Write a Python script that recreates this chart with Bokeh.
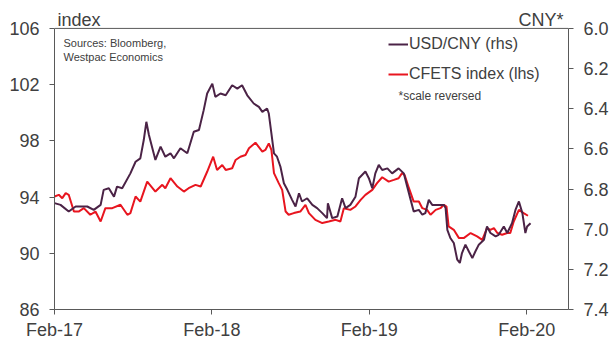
import pandas as pd
from bokeh.plotting import figure
from bokeh.models import (Range1d, LinearAxis, FixedTicker, DatetimeTickFormatter,
                          NumeralTickFormatter, Label, Legend, LegendItem, Span)
from bokeh.embed import file_html
from bokeh.resources import INLINE

# ---------------- data ----------------
usd_dates = [
    "2017-02-01", "2017-02-15", "2017-03-06", "2017-03-22", "2017-04-18", "2017-05-03",
    "2017-05-19", "2017-05-26", "2017-06-07", "2017-06-19", "2017-06-26", "2017-07-08",
    "2017-07-27", "2017-08-08", "2017-08-19", "2017-08-27", "2017-09-02", "2017-09-08",
    "2017-09-23", "2017-10-05", "2017-10-16", "2017-10-28", "2017-11-05", "2017-11-20",
    "2017-12-06", "2017-12-21", "2018-01-02", "2018-01-13", "2018-01-21", "2018-02-02",
    "2018-02-09", "2018-02-21", "2018-03-05", "2018-03-20", "2018-04-01", "2018-04-12",
    "2018-04-24", "2018-05-09", "2018-05-21", "2018-05-29", "2018-06-09", "2018-06-13",
    "2018-06-19", "2018-06-25", "2018-07-02", "2018-07-10", "2018-07-18", "2018-07-26",
    "2018-08-06", "2018-08-14", "2018-08-22", "2018-08-29", "2018-09-10", "2018-09-22",
    "2018-10-03", "2018-10-15", "2018-10-26", "2018-10-28", "2018-11-07", "2018-11-19",
    "2018-11-30", "2018-12-08", "2018-12-19", "2018-12-31", "2019-01-08", "2019-01-23",
    "2019-01-31", "2019-02-08", "2019-02-15", "2019-02-23", "2019-03-03", "2019-03-15",
    "2019-03-26", "2019-04-10", "2019-04-22", "2019-04-30", "2019-05-08", "2019-05-15",
    "2019-05-27", "2019-06-04", "2019-06-11", "2019-06-19", "2019-06-27", "2019-07-08",
    "2019-07-24", "2019-07-28", "2019-08-01", "2019-08-08", "2019-08-16", "2019-08-24",
    "2019-08-30", "2019-09-04", "2019-09-12", "2019-09-20", "2019-09-28", "2019-10-05",
    "2019-10-13", "2019-10-25", "2019-11-01", "2019-11-09", "2019-11-21", "2019-11-28",
    "2019-12-10", "2019-12-18", "2019-12-29", "2020-01-06", "2020-01-14", "2020-01-22",
    "2020-01-29", "2020-02-02", "2020-02-10",
]
usd_cny = [
    6.870, 6.879, 6.912, 6.887, 6.887, 6.904,
    6.879, 6.804, 6.796, 6.838, 6.788, 6.796,
    6.722, 6.664, 6.647, 6.556, 6.465, 6.531,
    6.655, 6.589, 6.639, 6.622, 6.647, 6.597,
    6.622, 6.515, 6.506, 6.407, 6.324, 6.275,
    6.341, 6.324, 6.333, 6.283, 6.300, 6.283,
    6.333, 6.374, 6.391, 6.416, 6.399, 6.424,
    6.523, 6.622, 6.639, 6.689, 6.771, 6.804,
    6.854, 6.887, 6.821, 6.862, 6.846, 6.879,
    6.895, 6.920, 6.945, 6.871, 6.945, 6.937,
    6.846, 6.895, 6.879, 6.838, 6.746, 6.713,
    6.746, 6.796, 6.722, 6.680, 6.705, 6.697,
    6.722, 6.697, 6.722, 6.788, 6.854, 6.912,
    6.904, 6.928, 6.920, 6.854, 6.879, 6.879,
    6.879, 6.895, 7.003, 7.044, 7.069, 7.152,
    7.168, 7.119, 7.077, 7.111, 7.144, 7.111,
    7.077, 7.053, 6.987, 7.019, 7.036, 7.028,
    6.987, 7.019, 6.970, 6.904, 6.862, 6.920,
    7.019, 6.987, 6.970,
]

cfets_dates = [
    "2017-02-01", "2017-02-11", "2017-02-19", "2017-02-27", "2017-03-06", "2017-03-18",
    "2017-03-29", "2017-04-10", "2017-04-25", "2017-05-07", "2017-05-19", "2017-05-30",
    "2017-06-15", "2017-07-04", "2017-07-20", "2017-07-27", "2017-08-08", "2017-08-19",
    "2017-09-04", "2017-09-23", "2017-10-09", "2017-10-16", "2017-10-28", "2017-11-13",
    "2017-11-28", "2017-12-09", "2017-12-25", "2018-01-06", "2018-01-21", "2018-02-04",
    "2018-02-13", "2018-02-25", "2018-03-05", "2018-03-20", "2018-03-28", "2018-04-08",
    "2018-04-20", "2018-04-28", "2018-05-13", "2018-05-29", "2018-06-05", "2018-06-13",
    "2018-06-19", "2018-06-25", "2018-07-06", "2018-07-14", "2018-07-22", "2018-07-29",
    "2018-08-10", "2018-08-25", "2018-09-06", "2018-09-14", "2018-09-29", "2018-10-15",
    "2018-10-30", "2018-11-15", "2018-11-26", "2018-12-04", "2018-12-19", "2018-12-31",
    "2019-01-12", "2019-01-23", "2019-02-08", "2019-02-19", "2019-03-03", "2019-03-18",
    "2019-03-30", "2019-04-10", "2019-04-18", "2019-04-24", "2019-05-04", "2019-05-15",
    "2019-05-27", "2019-06-04", "2019-06-15", "2019-06-23", "2019-07-05", "2019-07-16",
    "2019-07-24", "2019-07-30", "2019-08-04", "2019-08-16", "2019-08-28", "2019-09-08",
    "2019-09-24", "2019-10-09", "2019-10-21", "2019-11-01", "2019-11-09", "2019-11-17",
    "2019-11-25", "2019-12-06", "2019-12-18", "2019-12-25", "2020-01-02", "2020-01-14",
    "2020-01-25", "2020-02-04",
]
cfets_index = [
    94.04, 94.16, 93.92, 94.28, 94.16, 92.97,
    92.97, 93.21, 92.74, 92.97, 92.26, 93.21,
    93.21, 93.45, 92.74, 92.86, 94.04, 93.68,
    95.10, 94.39, 94.87, 94.63, 95.34, 94.75,
    94.39, 94.63, 94.87, 94.75, 95.80, 96.87,
    95.93, 96.28, 95.93, 96.05, 96.64, 96.87,
    96.99, 97.47, 97.87, 97.23, 97.35, 97.82,
    97.35, 95.70, 94.99, 94.51, 92.97, 92.74,
    92.86, 92.97, 93.45, 92.86, 92.38, 92.15,
    92.26, 92.38, 92.26, 93.21, 93.09, 93.33,
    93.80, 94.16, 94.51, 94.99, 95.41, 95.10,
    95.22, 95.34, 95.70, 95.57, 94.63, 93.68,
    93.68, 93.21, 93.09, 92.74, 93.09, 93.21,
    93.45, 93.33, 91.91, 91.67, 91.08, 91.08,
    91.44, 91.20, 90.96, 91.79, 91.67, 91.79,
    91.44, 91.32, 91.44, 91.44, 92.26, 93.09,
    92.86, 92.67,
]

x_ticks = ["2017-02-01", "2018-02-01", "2019-02-01", "2020-02-01"]
left_ticks = [86, 90, 94, 98, 102, 106]
right_ticks = [6.0, 6.2, 6.4, 6.6, 6.8, 7.0, 7.2, 7.4]

# ---------------- styles / layout ----------------
FONT = "Liberation Sans"
TXT = "#404040"
AX = "#595959"
PURPLE = "#4b2346"
RED = "#e8151f"

FRAME_H = 310          # frame runs from canvas top to the x axis
AXIS_TOP_PX = 28       # where the value axes end (106 / 6.0)
L_LO, L_HI = left_ticks[0], left_ticks[-1]
R_LO, R_HI = right_ticks[-1], right_ticks[0]   # reversed scale
l_top = L_HI + (L_HI - L_LO) * AXIS_TOP_PX / (FRAME_H - AXIS_TOP_PX)
r_top = R_HI - (R_LO - R_HI) * AXIS_TOP_PX / (FRAME_H - AXIS_TOP_PX)

usd_x = pd.to_datetime(usd_dates)
cf_x = pd.to_datetime(cfets_dates)

p = figure(width=615, height=342, x_axis_type="datetime",
           x_range=Range1d(pd.Timestamp("2017-02-01"), pd.Timestamp("2020-05-08")),
           y_range=Range1d(L_LO, l_top),
           output_backend="svg", toolbar_location=None,
           min_border_left=54, min_border_right=47, min_border_top=0, min_border_bottom=32)
p.extra_y_ranges = {"cny": Range1d(start=R_LO, end=r_top)}

p.grid.visible = False
p.outline_line_color = None
p.background_fill_color = "white"
p.border_fill_color = "white"

# top border line at the top of the value axes
p.add_layout(Span(location=L_HI, dimension="width", line_color=AX, line_width=1))

# lines
r_cf = p.line(cf_x, cfets_index, line_color=RED, line_width=2)
r_usd = p.line(usd_x, usd_cny, line_color=PURPLE, line_width=2, y_range_name="cny")

# axes
def style_axis(ax):
    ax.axis_line_color = AX
    ax.major_tick_line_color = AX
    ax.minor_tick_line_color = None
    ax.major_tick_in = 0
    ax.major_tick_out = 5
    ax.major_label_text_font = FONT
    ax.major_label_text_font_size = "18px"
    ax.major_label_text_color = TXT

xa = p.xaxis[0]
style_axis(xa)
xa.ticker = FixedTicker(ticks=[pd.Timestamp(t).value / 1e6 for t in x_ticks])
xa.formatter = DatetimeTickFormatter(years="%b-%y", months="%b-%y", days="%b-%y")
xa.major_label_standoff = 5

ya = p.yaxis[0]
style_axis(ya)
ya.ticker = FixedTicker(ticks=left_ticks)
ya.bounds = (L_LO, L_HI)
ya.major_label_standoff = 10

ra = LinearAxis(y_range_name="cny")
style_axis(ra)
ra.ticker = FixedTicker(ticks=right_ticks)
ra.formatter = NumeralTickFormatter(format="0.0")
ra.bounds = (R_HI, R_LO)
ra.major_label_standoff = 10
p.add_layout(ra, "right")

# legend
legend = Legend(items=[LegendItem(label="USD/CNY (rhs)", renderers=[r_usd]),
                       LegendItem(label="CFETS index (lhs)", renderers=[r_cf])],
                location=(334, 225), orientation="vertical")
legend.label_text_font = FONT
legend.label_text_font_size = "16px"
legend.label_text_color = TXT
legend.glyph_width = 20
legend.glyph_height = 20
legend.label_standoff = 1
legend.spacing = 10
legend.padding = 0
legend.margin = 0
legend.border_line_color = None
legend.background_fill_alpha = 0
p.add_layout(legend, "center")

# texts
def lab(text, x, y, size, align="left"):
    p.add_layout(Label(x=x, y=y, x_units="screen", y_units="screen", text=text,
                       text_font=FONT, text_font_size=size, text_color=TXT,
                       text_align=align, text_baseline="middle"))

lab("index", 3, 290, "18px")
lab("CNY*", 509, 290, "18px", "right")
lab("Sources: Bloomberg,", 9, 267, "11px")
lab("Westpac Economics", 9, 253, "11px")
lab("*scale reversed", 344, 214, "12px")

open("out.html", "w").write(file_html(p, INLINE))
